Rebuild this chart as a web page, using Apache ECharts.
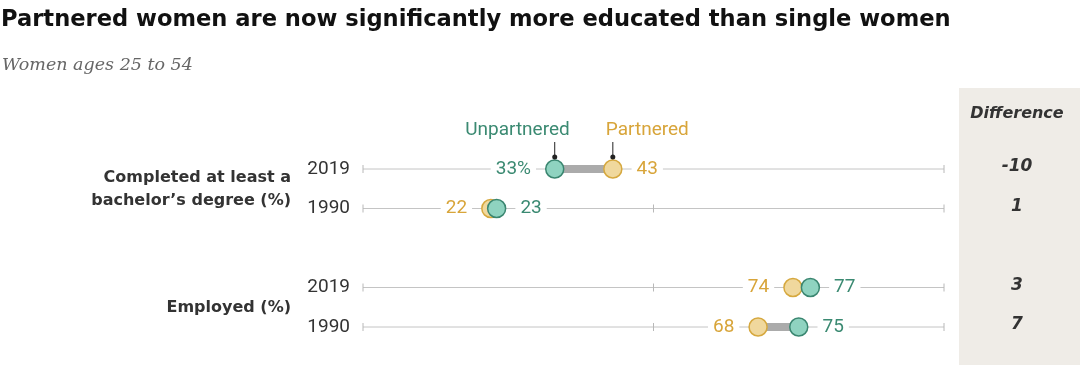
<!DOCTYPE html>
<html>
<head>
<meta charset="utf-8">
<script src="https://cdn.jsdelivr.net/npm/echarts@6/dist/echarts.min.js"></script>
<style>
  html, body { margin: 0; padding: 0; background: #fff; }
  #chart { width: 1080px; height: 365px; }
</style>
</head>
<body>
<div id="chart"></div>
<script>
// ---- Data ----
const titleText = 'Partnered women are now significantly more educated than single women';
const subtitleText = 'Women ages 25 to 54';
const categories = ['2019', '1990', '', '2019', '1990'];
const dataRows = [0, 1, 3, 4];
const groupLabels = ['Completed at least a\nbachelor\u2019s degree (%)', 'Employed (%)'];
const groupRows = [[0, 1], [3, 4]];
const unpartnered = [33, 23, 77, 75];
const partnered = [43, 22, 74, 68];
const axisTicks = [0, 50, 100];
const legendNames = ['Unpartnered', 'Partnered'];
const differenceHeader = 'Difference';

// ---- Styles ----
const TEAL_TEXT = '#3b8a72', TEAL_FILL = '#8fd3c0', TEAL_STROKE = '#3a8670';
const GOLD_TEXT = '#d8a53a', GOLD_FILL = '#f0d89d', GOLD_STROKE = '#d6a83e';
const FONT = 'Roboto, "Noto Sans", sans-serif';
const BOLDFONT = '"DejaVu Sans", "Liberation Sans", sans-serif';

const differences = unpartnered.map((u, i) => u - partnered[i]);

const chart = echarts.init(document.getElementById('chart'), null, { renderer: 'canvas' });

function labelCfg(color, pos) {
  return {
    show: true, position: pos, distance: 9,
    color: color, fontSize: 19, fontFamily: FONT,
    backgroundColor: '#fff', padding: [0, 5]
  };
}

const unpData = dataRows.map((r, i) => ({
  value: [unpartnered[i], r],
  label: labelCfg(TEAL_TEXT, unpartnered[i] < partnered[i] ? 'left' : 'right')
}));
const parData = dataRows.map((r, i) => ({
  value: [partnered[i], r],
  label: labelCfg(GOLD_TEXT, partnered[i] <= unpartnered[i] ? 'left' : 'right')
}));

const option = {
  backgroundColor: '#fff',
  animation: false,
  title: [
    { text: titleText, left: 1, top: 9, padding: 0,
      textStyle: { fontFamily: BOLDFONT, fontWeight: 'bold', fontSize: 22.6, color: '#111' } },
    { text: subtitleText, left: 2, top: 56, padding: 0,
      textStyle: { fontFamily: '"DejaVu Serif", serif', fontStyle: 'italic', fontWeight: 'normal', fontSize: 17.5, color: '#666' } }
  ],
  graphic: [
    { type: 'rect', left: 959, top: 88, shape: { width: 121, height: 277 }, style: { fill: '#efece7' }, z: -10 },
    { type: 'text', x: 1017, y: 114, style: { text: differenceHeader, align: 'center', verticalAlign: 'middle',
      font: 'italic bold 16px ' + BOLDFONT, fill: '#333' } }
  ],
  grid: { left: 363, right: 136, top: 149.25, height: 197.5, containLabel: false },
  xAxis: { type: 'value', min: 0, max: 100, show: false },
  yAxis: {
    type: 'category', data: categories, inverse: true,
    axisLine: { show: false }, axisTick: { show: false }, splitLine: { show: false },
    axisLabel: { color: '#333', fontSize: 19, fontFamily: FONT, margin: 13 }
  },
  series: [
    {
      type: 'custom', z: 1, silent: true,
      data: dataRows.map(r => [0, r]),
      encode: { x: 0, y: 1 },
      renderItem: function (params, api) {
        const row = api.value(1);
        const a = api.coord([axisTicks[0], row]);
        const b = api.coord([axisTicks[axisTicks.length - 1], row]);
        const children = [{ type: 'line', shape: { x1: a[0], y1: a[1], x2: b[0], y2: b[1] },
          style: { stroke: '#c4c4c4', lineWidth: 1 } }];
        axisTicks.forEach(t => {
          const p = api.coord([t, row]);
          children.push({ type: 'line', shape: { x1: p[0], y1: p[1] - 4, x2: p[0], y2: p[1] + 4 },
            style: { stroke: '#b8b8b8', lineWidth: 1 } });
        });
        return { type: 'group', children };
      }
    },
    {
      type: 'custom', z: 2, silent: true,
      data: dataRows.map((r, i) => [unpartnered[i], partnered[i], r]),
      encode: { x: [0, 1], y: 2 },
      renderItem: function (params, api) {
        const row = api.value(2);
        const a = api.coord([api.value(0), row]);
        const b = api.coord([api.value(1), row]);
        return { type: 'line', shape: { x1: a[0], y1: a[1], x2: b[0], y2: b[1] },
          style: { stroke: '#ababab', lineWidth: 8 } };
      }
    },
    {
      name: legendNames[1], type: 'scatter', z: 3, symbolSize: 18,
      itemStyle: { color: GOLD_FILL, borderColor: GOLD_STROKE, borderWidth: 1.5, opacity: 1 },
      data: parData,
      label: { formatter: p => String(p.value[0]) }
    },
    {
      name: legendNames[0], type: 'scatter', z: 4, symbolSize: 18,
      itemStyle: { color: TEAL_FILL, borderColor: TEAL_STROKE, borderWidth: 1.5, opacity: 1 },
      data: unpData,
      label: { formatter: p => p.value[0] + (p.dataIndex === 0 ? '%' : '') }
    },
    {
      type: 'custom', z: 5, silent: true,
      data: [[unpartnered[0], dataRows[0], 0], [partnered[0], dataRows[0], 1]],
      encode: { x: 0, y: 1 },
      renderItem: function (params, api) {
        const p = api.coord([api.value(0), api.value(1)]);
        const which = api.value(2);
        const top = p[1] - 27, bot = p[1] - 12;
        return { type: 'group', children: [
          { type: 'line', shape: { x1: p[0], y1: top, x2: p[0], y2: bot }, style: { stroke: '#222', lineWidth: 1 } },
          { type: 'circle', shape: { cx: p[0], cy: bot, r: 2.5 }, style: { fill: '#222' } },
          { type: 'text', x: which === 0 ? p[0] + 15 : p[0] - 7, y: top - 12,
            style: { text: legendNames[which], align: which === 0 ? 'right' : 'left', verticalAlign: 'middle',
              font: '19px ' + FONT, fill: which === 0 ? TEAL_TEXT : GOLD_TEXT } }
        ] };
      }
    },
    {
      type: 'custom', z: 5, silent: true,
      data: groupRows.map((g, i) => [0, g[0], g[1], i]),
      encode: { x: 0, y: [1, 2] },
      renderItem: function (params, api) {
        const a = api.coord([0, api.value(1)]);
        const b = api.coord([0, api.value(2)]);
        const gi = api.value(3);
        return { type: 'text', x: 291, y: (a[1] + b[1]) / 2 + 1,
          style: { text: groupLabels[gi], align: 'right', verticalAlign: 'middle', lineHeight: 23,
            font: 'bold 16px ' + BOLDFONT, fill: '#333' } };
      }
    },
    {
      type: 'custom', z: 5, silent: true,
      data: dataRows.map((r, i) => [0, r, differences[i]]),
      encode: { x: 0, y: 1 },
      renderItem: function (params, api) {
        const p = api.coord([0, api.value(1)]);
        return { type: 'text', x: 1017, y: p[1] - 2,
          style: { text: String(api.value(2)), align: 'center', verticalAlign: 'middle',
            font: 'italic bold 17px ' + BOLDFONT, fill: '#333' } };
      }
    }
  ]
};
chart.setOption(option);
</script>
</body>
</html>
